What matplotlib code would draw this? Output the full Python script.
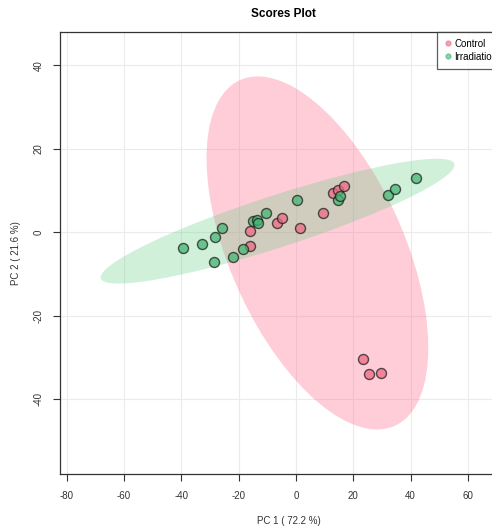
import numpy as np
import matplotlib
matplotlib.use("Agg")
import matplotlib.pyplot as plt
from matplotlib.patches import Ellipse
from matplotlib.lines import Line2D

plt.rcParams["font.family"] = ["Liberation Sans", "DejaVu Sans"]
plt.rcParams["axes.unicode_minus"] = False

# PCA scores (PC1, PC2) per group
control_pc1 = [-16.1, -16.1, -6.7, -5.0, 1.4, 9.3, 13.0, 14.8, 16.7, 23.3, 25.6, 29.6]
control_pc2 = [0.2, -3.4, 2.2, 3.5, 1.0, 4.6, 9.3, 10.1, 11.0, -30.5, -34.1, -33.7]

irrad_pc1 = [-39.3, -32.9, -28.6, -28.3, -25.9, -21.9, -18.4, -14.9, -13.7, -13.2,
             -10.6, 0.2, 14.8, 15.4, 32.2, 34.5, 41.9]
irrad_pc2 = [-3.9, -2.9, -7.1, -1.1, 1.1, -5.9, -4.1, 2.6, 3.0, 2.3,
             4.6, 7.7, 7.7, 8.6, 9.0, 10.3, 12.9]

group_names = ["Control", "Irradiation"]
xticks = [-80, -60, -40, -20, 0, 20, 40, 60]
yticks = [-40, -20, 0, 20, 40]
pc1_pct, pc2_pct = 72.2, 21.6

point_colors = ["#EE6A85", "#45B572"]
ellipse_colors = ["#FF7595", "#64CF86"]
ellipse_alpha = [0.36, 0.30]


def conf_ellipse(x, y, level=0.95, **kw):
    x = np.asarray(x); y = np.asarray(y)
    cov = np.cov(x, y)
    vals, vecs = np.linalg.eigh(cov)
    order = vals.argsort()[::-1]
    vals, vecs = vals[order], vecs[:, order]
    scale = -2.0 * np.log(1.0 - level)  # chi-square quantile, 2 df
    angle = np.degrees(np.arctan2(vecs[1, 0], vecs[0, 0]))
    w, h = 2 * np.sqrt(vals * scale)
    return Ellipse((x.mean(), y.mean()), w, h, angle=angle, **kw)


fig = plt.figure(figsize=(4.92, 5.28), dpi=100)
W, H = 492, 528
left, right, top, bottom = 60, 517, 32, 474
ax = fig.add_axes([left / W, 1 - bottom / H, (right - left) / W, (bottom - top) / H])

ax.set_xlim(-82.3, 77.1)
ax.set_ylim(-58.0, 48.0)

for xv in xticks:
    ax.axvline(xv, color="#EBEBEB", lw=0.8, zorder=0)
for yv in yticks:
    ax.axhline(yv, color="#EBEBEB", lw=0.8, zorder=0)

groups = [(control_pc1, control_pc2), (irrad_pc1, irrad_pc2)]
for (gx, gy), ec, ea in zip(groups, ellipse_colors, ellipse_alpha):
    ax.add_patch(conf_ellipse(gx, gy, facecolor=ec, alpha=ea, edgecolor="none", zorder=1))

for (gx, gy), pc in zip(groups, point_colors):
    ax.scatter(gx, gy, s=52, facecolor=pc, edgecolor="#1E1E1E", linewidths=1.0,
               alpha=0.75, zorder=3)

ax.set_xticks(xticks)
ax.set_yticks(yticks)
ax.tick_params(axis="both", direction="out", length=5, width=0.8, labelsize=7,
               colors="#333333", pad=7)
for lab in ax.get_yticklabels():
    lab.set_rotation(90)
    lab.set_va("center")

ax.set_xlabel(f"PC 1 ( {pc1_pct} %)", fontsize=7, color="#333333", labelpad=11)
ax.set_ylabel(f"PC 2 ( {pc2_pct} %)", fontsize=7, color="#333333", labelpad=9)
fig.text(283 / W, 1 - 14 / H, "Scores Plot", ha="center", va="center",
         fontsize=8.5, fontweight="bold")

for sp in ax.spines.values():
    sp.set_linewidth(0.9)
    sp.set_color("#333333")

handles = [Line2D([], [], marker="o", ls="none", markersize=3.5,
                  markerfacecolor=c, markeredgecolor=c, alpha=0.6)
           for c in point_colors]
leg = ax.legend(handles, group_names, loc="upper left",
                bbox_to_anchor=(437 / W, 1 - top / H), bbox_transform=fig.transFigure,
                borderaxespad=0, fontsize=7, frameon=True, fancybox=False,
                handletextpad=0.3, handlelength=0.8, borderpad=0.7, labelspacing=0.3)
leg.get_frame().set_edgecolor("#333333")
leg.get_frame().set_linewidth(0.9)

fig.savefig("out.png", dpi=100)
